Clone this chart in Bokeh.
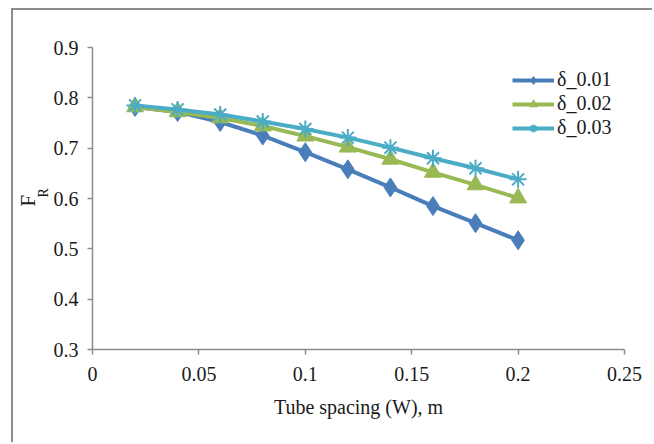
from bokeh.plotting import figure
from bokeh.models import Range1d, Title, Legend, LegendItem, FixedTicker
from bokeh.embed import file_html
from bokeh.resources import INLINE

# Data
spacing = [0.02, 0.04, 0.06, 0.08, 0.10, 0.12, 0.14, 0.16, 0.18, 0.20]
fr_d001 = [0.782, 0.772, 0.752, 0.725, 0.692, 0.658, 0.622, 0.585, 0.551, 0.517]
fr_d002 = [0.782, 0.772, 0.760, 0.744, 0.724, 0.702, 0.678, 0.652, 0.627, 0.601]
fr_d003 = [0.785, 0.777, 0.767, 0.753, 0.738, 0.721, 0.701, 0.680, 0.660, 0.638]
series_names = ["δ_0.01", "δ_0.02", "δ_0.03"]
x_ticks = [0, 0.05, 0.1, 0.15, 0.2, 0.25]
x_tick_labels = ["0", "0.05", "0.1", "0.15", "0.2", "0.25"]
y_ticks = [0.3, 0.4, 0.5, 0.6, 0.7, 0.8, 0.9]
y_tick_labels = ["0.3", "0.4", "0.5", "0.6", "0.7", "0.8", "0.9"]

FONT = "Liberation Serif"
AXIS_COLOR = "#8c8c8c"

p = figure(width=641, height=434, output_backend="svg", toolbar_location=None,
           x_range=Range1d(0, 0.25), y_range=Range1d(0.3, 0.9),
           min_border_left=79, min_border_right=30, min_border_top=37,
           min_border_bottom=95)
p.styles = {"border-left": "2px solid #8c8c8c", "border-top": "2px solid #8c8c8c",
            "margin-left": "11px", "margin-top": "8px"}
p.outline_line_color = None
p.grid.visible = False
p.background_fill_color = "white"
p.border_fill_color = "white"

p.xaxis.ticker = FixedTicker(ticks=x_ticks)
p.yaxis.ticker = FixedTicker(ticks=y_ticks)
p.xaxis.major_label_overrides = {t: l for t, l in zip(x_ticks, x_tick_labels)}
p.yaxis.major_label_overrides = {t: l for t, l in zip(y_ticks, y_tick_labels)}
for ax in (p.xaxis, p.yaxis):
    ax.axis_line_color = AXIS_COLOR
    ax.axis_line_width = 1.5
    ax.major_tick_line_color = AXIS_COLOR
    ax.major_tick_line_width = 1.5
    ax.major_tick_out = 5
    ax.major_tick_in = 0
    ax.minor_tick_line_color = None
    ax.major_label_text_font = FONT
    ax.major_label_text_font_size = "20px"
    ax.major_label_text_color = "#1a1a1a"
p.xaxis.major_label_standoff = 12
p.yaxis.major_label_standoff = 9
p.xaxis.axis_label = "Tube spacing (W), m"
p.xaxis.axis_label_text_font = FONT
p.xaxis.axis_label_text_font_style = "normal"
p.xaxis.axis_label_text_font_size = "20px"
p.xaxis.axis_label_text_color = "#1a1a1a"
p.xaxis.axis_label_standoff = 12

colors = ["#4a7ebb", "#98b954", "#4bacc6"]
r1 = p.line(spacing, fr_d001, line_color=colors[0], line_width=4)
m1 = p.scatter(spacing, fr_d001, marker="diamond", size=19, color=colors[0])
r2 = p.line(spacing, fr_d002, line_color=colors[1], line_width=4)
m2 = p.scatter(spacing, fr_d002, marker="triangle", size=17, color=colors[1])
r3 = p.line(spacing, fr_d003, line_color=colors[2], line_width=4)
m3 = p.scatter(spacing, fr_d003, marker="asterisk", size=17, line_color=colors[2], line_width=2)

legend = Legend(items=[LegendItem(label=series_names[0], renderers=[r1, m1]),
                       LegendItem(label=series_names[1], renderers=[r2, m2]),
                       LegendItem(label=series_names[2], renderers=[r3, m3])],
                location=(420, 210))
legend.border_line_color = None
legend.background_fill_alpha = 0
legend.label_text_font = FONT
legend.label_text_font_size = "20px"
legend.label_text_color = "#1a1a1a"
legend.glyph_width = 42
legend.glyph_height = 20
legend.label_height = 20
legend.spacing = 1
legend.label_standoff = 3
legend.margin = 0
legend.padding = 0
p.add_layout(legend)

# Y axis label F_R (subscript R drawn as a second, smaller title)
p.add_layout(Title(text="R", align="left", offset=152, standoff=0,
                   text_font=FONT, text_font_size="14px", text_font_style="normal",
                   text_color="#1a1a1a"), "left")
p.add_layout(Title(text="F", align="left", offset=143, standoff=-13,
                   text_font=FONT, text_font_size="21px", text_font_style="normal",
                   text_color="#1a1a1a"), "left")

open("out.html", "w").write(file_html(p, INLINE))
